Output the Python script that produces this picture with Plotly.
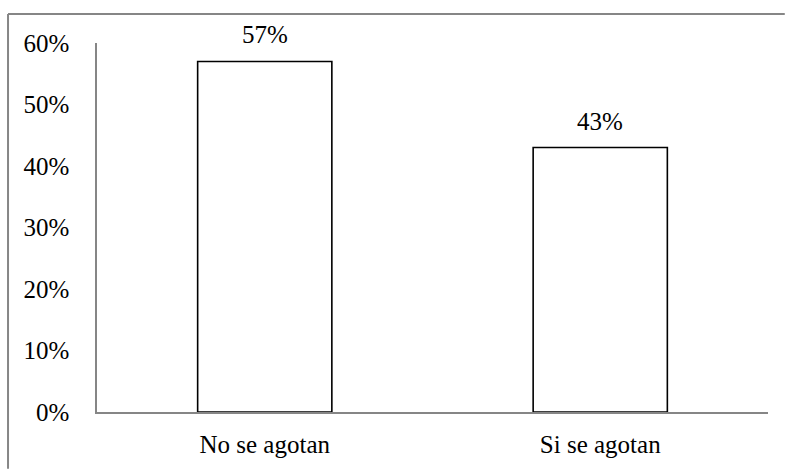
import plotly.graph_objects as go

categories = ["No se agotan", "Si se agotan"]
values = [0.57, 0.43]
labels = ["57%", "43%"]
tick_vals = [0, 0.1, 0.2, 0.3, 0.4, 0.5, 0.6]
tick_text = ["0%", "10%", "20%", "30%", "40%", "50%", "60%"]

FONT = "Liberation Serif, Times New Roman, serif"
FS = 25

fig = go.Figure()
fig.add_trace(go.Bar(
    x=categories, y=values,
    marker=dict(color="white", line=dict(color="black", width=1.6)),
    hoverinfo="skip",
))

for c, v, t in zip(categories, values, labels):
    fig.add_annotation(x=c, y=v, text=t, showarrow=False, yanchor="bottom",
                       yshift=11, font=dict(family=FONT, size=FS, color="black"))

border = dict(color="#868686", width=2)
fig.update_layout(
    width=785, height=469,
    margin=dict(l=97, r=17, t=43, b=57),
    paper_bgcolor="white", plot_bgcolor="white",
    bargap=0.6, showlegend=False,
    font=dict(family=FONT, size=FS, color="black"),
    modebar=dict(bgcolor="rgba(0,0,0,0)", color="rgba(0,0,0,0)",
                 activecolor="rgba(0,0,0,0)"),
    xaxis=dict(showline=True, linecolor="#868686", linewidth=1.5,
               showgrid=False, ticks="", ticklabelstandoff=9,
               tickfont=dict(size=FS)),
    yaxis=dict(range=[0, 0.6], tickvals=tick_vals, ticktext=tick_text,
               showline=True, linecolor="#868686", linewidth=1.5,
               showgrid=False, zeroline=False, ticks="", ticklen=0,
               ticklabelstandoff=21, tickfont=dict(size=FS)),
    shapes=[
        dict(type="line", xref="paper", yref="paper",
             x0=-0.1326, x1=1.025, y0=1.0786, y1=1.0786, line=border, layer="below"),
        dict(type="line", xref="paper", yref="paper",
             x0=-0.1326, x1=-0.1326, y0=-0.154, y1=1.0786, line=border, layer="below"),
    ],
)

fig.write_html(
    "out.html",
    post_script=(
        "document.body.style.margin='0';"
        "document.body.style.overflow='hidden';"
        "document.querySelectorAll('.modebar-container').forEach(function(e){e.style.display='none';});"
    ),
)
